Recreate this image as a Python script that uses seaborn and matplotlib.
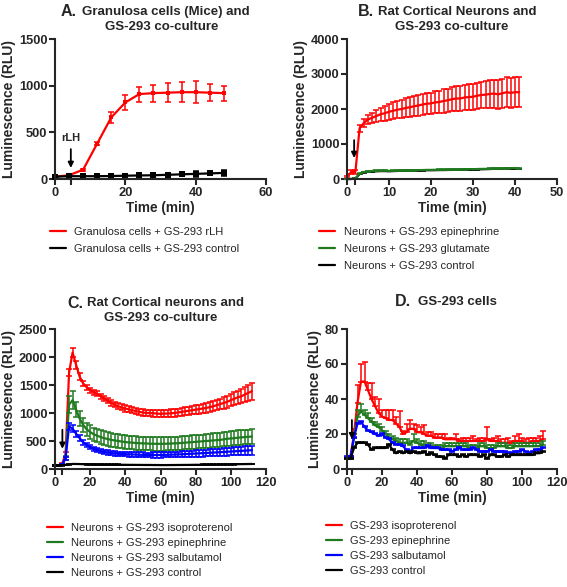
import numpy as np
import pandas as pd
import seaborn as sns
import matplotlib.pyplot as plt
from matplotlib.lines import Line2D

# ---- data ----

# A. granulosa cells + GS-293
a_time = [0, 4, 8, 12, 16, 20, 24, 28, 32, 36, 40, 44, 48]
a_rlh = [25, 40, 100, 380, 660, 820, 910, 920, 925, 930, 930, 925, 920]
a_rlh_err = [5, 5, 10, 20, 60, 80, 80, 90, 100, 110, 120, 90, 80]
a_ctrl = [25, 30, 30, 30, 32, 35, 38, 40, 45, 50, 55, 60, 65]
a_ctrl_err = [3, 3, 3, 3, 3, 5, 5, 5, 8, 20, 35, 15, 30]

# B. rat cortical neurons + GS-293
b_time = [0, 1, 2, 3, 4, 5, 6, 7, 8, 9, 10, 11, 12, 13, 14, 15, 16, 17, 18, 19, 20,
          21, 22, 23, 24, 25, 26, 27, 28, 29, 30, 31, 32, 33, 34, 35, 36, 37, 38, 39, 40, 41]
b_epi = [60, 200, 200, 1450, 1600, 1700, 1750, 1800, 1850, 1880, 1920, 1950, 1980, 2000,
         2030, 2050, 2080, 2100, 2130, 2150, 2160, 2190, 2200, 2230, 2250, 2280, 2300, 2300,
         2330, 2340, 2350, 2380, 2400, 2410, 2430, 2440, 2420, 2450, 2480, 2460, 2480, 2480]
b_epi_err = [20, 60, 60, 100, 110, 120, 150, 170, 190, 210, 230, 240, 250, 260, 270, 280,
             280, 290, 300, 300, 310, 310, 320, 330, 330, 340, 350, 350, 360, 360, 370, 370,
             380, 390, 390, 400, 410, 410, 420, 420, 420, 420]
b_glu = [0, 0, 20, 150, 200, 220, 230, 235, 240, 240, 230, 235, 240, 245, 250, 250, 250,
         255, 255, 260, 260, 262, 265, 265, 268, 270, 272, 275, 278, 280, 280, 285, 288, 290,
         295, 300, 300, 305, 308, 310, 310, 300]
b_ctrl = [0, 0, 10, 140, 190, 205, 215, 220, 225, 225, 220, 225, 230, 235, 240, 240, 240,
          245, 245, 250, 250, 252, 255, 255, 258, 260, 262, 265, 268, 270, 270, 275, 278, 280,
          285, 290, 290, 295, 298, 300, 300, 295]

# C. rat cortical neurons + GS-293, 2 min steps
c_time = [0, 2, 4, 6, 8, 10, 12, 14, 16, 18, 20, 22, 24, 26, 28, 30, 32, 34, 36, 38, 40,
          42, 44, 46, 48, 50, 52, 54, 56, 58, 60, 62, 64, 66, 68, 70, 72, 74, 76, 78, 80,
          82, 84, 86, 88, 90, 92, 94, 96, 98, 100, 102, 104, 106, 108, 110, 112]
c_iso = [60, 62, 90, 260, 1720, 2080, 1860, 1650, 1530, 1460, 1410, 1370, 1340, 1300, 1260,
         1220, 1180, 1150, 1120, 1100, 1080, 1065, 1050, 1035, 1020, 1010, 1000, 1000, 995,
         990, 985, 990, 990, 995, 1000, 1010, 1020, 1030, 1040, 1050, 1060, 1070, 1080, 1090,
         1105, 1120, 1140, 1160, 1180, 1200, 1230, 1255, 1280, 1300, 1330, 1360, 1390]
c_iso_err = [10, 10, 20, 40, 60, 80, 70, 60, 50, 45, 45, 45, 45, 45, 48, 50, 50, 50, 52, 52,
             55, 55, 55, 58, 58, 60, 60, 60, 62, 62, 65, 65, 65, 68, 68, 70, 70, 72, 75, 75,
             80, 80, 82, 85, 88, 90, 92, 95, 100, 105, 110, 115, 120, 125, 130, 140, 150]
c_epi = [60, 62, 80, 200, 1150, 1230, 1060, 900, 790, 710, 660, 620, 595, 570, 550, 535, 520,
         510, 500, 490, 480, 475, 470, 465, 460, 458, 455, 452, 450, 450, 450, 450, 452, 455,
         458, 460, 465, 470, 475, 480, 485, 490, 495, 500, 505, 510, 515, 520, 530, 540, 545,
         550, 560, 565, 570, 575, 580]
c_epi_err = [10, 10, 15, 40, 150, 160, 140, 130, 125, 120, 120, 120, 120, 120, 120, 120, 120,
             120, 120, 120, 120, 120, 120, 120, 120, 120, 120, 120, 120, 120, 120, 120, 120, 120,
             120, 120, 120, 120, 120, 120, 120, 120, 120, 122, 122, 124, 124, 125, 125, 126, 126,
             128, 128, 128, 130, 130, 130]
c_sal = [60, 62, 75, 190, 760, 720, 630, 550, 480, 430, 390, 360, 340, 320, 305, 295, 285,
         278, 272, 268, 265, 262, 260, 258, 255, 252, 250, 250, 250, 250, 250, 252, 254, 256,
         258, 260, 263, 266, 270, 273, 276, 280, 283, 286, 290, 293, 297, 300, 304, 308, 312,
         316, 320, 324, 328, 332, 336]
c_sal_err = [8, 8, 10, 30, 55, 60, 55, 50, 45, 42, 40, 40, 40, 40, 40, 40, 40, 40, 40, 40, 40,
             40, 42, 42, 42, 44, 44, 44, 45, 45, 46, 46, 48, 48, 50, 50, 52, 52, 54, 55, 56, 58,
             60, 60, 62, 64, 65, 66, 68, 70, 70, 72, 74, 75, 76, 78, 80]
c_ctrl = [60, 62, 65, 75, 85, 90, 90, 88, 86, 85, 83, 82, 80, 80, 78, 78, 77, 76, 76, 75, 75,
          74, 74, 73, 73, 72, 72, 72, 71, 71, 70, 70, 70, 71, 71, 72, 72, 73, 73, 74, 75, 75,
          76, 77, 78, 79, 80, 81, 82, 83, 84, 85, 86, 87, 88, 89, 90]
c_ctrl_err = [3, 3, 3, 4, 5, 5, 5, 5, 5, 5, 5, 5, 5, 5, 5, 5, 5, 5, 5, 5, 5, 5, 5, 5, 5, 5,
              5, 5, 5, 5, 5, 5, 5, 5, 5, 5, 5, 5, 5, 5, 5, 5, 5, 5, 5, 5, 5, 5, 5, 5, 5, 5, 5,
              5, 5, 5, 5]

# D. GS-293 cells alone, same 2 min steps
d_time = c_time
d_iso = [6, 7, 20, 38, 50, 50, 45, 40, 36, 32, 30, 29, 28, 28, 26, 24, 20, 21, 23, 23, 21,
         21, 20, 19, 19, 18, 18, 18, 17, 17, 17, 17, 16, 16, 16, 16, 16, 16, 16, 16, 17, 16,
         16, 16, 15, 15, 15, 15, 16, 16, 16, 15, 15, 16, 16, 16, 17]
d_iso_err = [0.5, 0.5, 3, 10, 10, 11, 4, 9, 5, 8, 4, 5, 6, 6, 4, 9, 2, 5, 5, 3, 4, 3, 5, 2,
             2, 2, 2, 2, 3, 1, 1, 3, 1, 2, 2, 2, 3, 1, 2, 2, 7, 1, 2, 3, 2, 2, 3, 1, 3, 4, 2,
             2, 3, 2, 2, 3, 5]
d_epi = [6, 6, 18, 30, 33, 31, 29, 27, 25, 24, 22, 20, 18, 17, 16, 15, 15, 15, 14, 16, 15,
         14, 14, 13, 13, 12, 12, 12, 13, 13, 13, 13, 13, 13, 13, 12, 12, 12, 13, 13, 12, 12,
         12, 13, 13, 13, 12, 12, 13, 13, 13, 13, 13, 13, 13, 13, 14]
d_epi_err = [0.5, 0.5, 2, 4, 4, 3, 3, 2, 2, 2, 2, 2, 2, 2, 2, 2, 2, 2, 2, 4, 2, 2, 2, 2, 2,
             2, 2, 2, 2, 2, 2, 2, 2, 2, 2, 2, 2, 2, 2, 2, 2, 2, 2, 2, 2, 2, 2, 2, 2, 2, 2, 2,
             2, 2, 2, 2, 2]
d_sal = [7, 7, 18, 26, 27, 24, 22, 21, 20, 19, 20, 18, 17, 15, 14, 14, 13, 11, 10, 12, 12,
         12, 12, 13, 12, 12, 12, 11, 11, 11, 10, 11, 12, 11, 11, 11, 12, 11, 10, 10, 10, 11,
         10, 10, 10, 10, 9, 9, 10, 10, 11, 10, 9, 10, 11, 11, 12]
d_sal_err = [0.5] * 57
d_ctrl = [6, 6, 12, 15, 15, 15, 14, 11, 12, 12, 12, 12, 14, 11, 9, 10, 9, 10, 9, 10, 9, 9,
          10, 8, 9, 8, 7, 7, 6, 8, 8, 8, 7, 8, 7, 8, 8, 8, 7, 8, 6, 8, 8, 7, 7, 8, 7, 8, 8, 8,
          8, 8, 8, 8, 9, 9, 10]
d_ctrl_err = [0.5] * 57

RED, GREEN, BLUE, BLACK = "#ff0000", "#1f7a1f", "#0000ff", "#000000"

sns.set_style("ticks")
plt.rcParams["font.family"] = ["Liberation Sans", "DejaVu Sans"]

fig = plt.figure(figsize=(5.67, 5.87), dpi=100)
W, H = 567, 587


def make_axes(left, right, top, bottom):
    return fig.add_axes([left / W, 1 - bottom / H, (right - left) / W, (bottom - top) / H])


def draw(ax, t, y, err, color, upper_only=False, marker=None, msize=4):
    df = pd.DataFrame({"t": t, "y": y})
    sns.lineplot(data=df, x="t", y="y", ax=ax, color=color, lw=1.6,
                 marker=marker, markersize=msize, markeredgewidth=0, clip_on=False)
    err = np.asarray(err, dtype=float)
    yerr = [np.zeros_like(err), err] if upper_only else err
    ax.errorbar(t, y, yerr=yerr, fmt="none", ecolor=color, elinewidth=1.1,
                capsize=2, capthick=1.1, clip_on=False)


def style(ax, xmax, xstep, ymax, ystep, tick_at):
    ax.set_xlim(0, xmax)
    ax.set_ylim(0, ymax)
    ax.set_xticks(np.arange(0, xmax + 1, xstep))
    ax.set_yticks(np.arange(0, ymax + 1, ystep))
    ax.set_xticks([tick_at], minor=True)
    for s in ["left", "bottom"]:
        ax.spines[s].set_linewidth(1.5)
    sns.despine(ax=ax)
    ax.tick_params(which="both", width=1.5, length=4, pad=1.5, labelsize=9.3)
    for lab in ax.get_xticklabels() + ax.get_yticklabels():
        lab.set_fontweight("bold")
    ax.set_xlabel("Time (min)", fontsize=9.8, fontweight="bold", labelpad=2)
    ax.set_ylabel("Luminescence (RLU)", fontsize=10, fontweight="bold", labelpad=2)


def arrow(ax, x, y0, y1):
    ax.annotate("", xy=(x, y1), xytext=(x, y0),
                arrowprops=dict(arrowstyle="-|>", color="black", lw=1.3,
                                mutation_scale=8, shrinkA=0, shrinkB=0))


def legend(ax, labels, colors, bx, by, spacing):
    handles = [Line2D([], [], color=c, lw=1.6) for c in colors]
    ax.legend(handles, labels, loc="upper left", bbox_to_anchor=(bx, by), frameon=False,
              fontsize=8, borderpad=0, borderaxespad=0, handlelength=1.45,
              handletextpad=0.75, labelspacing=spacing)


def title(letter_x, body_x, line2_x, y1, letter, body, line2=None):
    fig.text(letter_x / W, 1 - y1 / H, letter, fontsize=11.5, fontweight="bold",
             ha="left", va="center")
    fig.text(body_x / W, 1 - y1 / H, body, fontsize=9.5, fontweight="bold",
             ha="left", va="center")
    if line2:
        fig.text(line2_x / W, 1 - (y1 + 15) / H, line2, fontsize=9.5, fontweight="bold",
                 ha="center", va="center")


# A
axA = make_axes(55, 266, 39, 179)
draw(axA, a_time, a_rlh, a_rlh_err, RED, marker="s", msize=3)
draw(axA, a_time, a_ctrl, a_ctrl_err, BLACK, marker="s", msize=4.5)
style(axA, 60, 20, 1500, 500, 4.5)
arrow(axA, 4.5, 320, 118)
axA.text(4.5, 440, "rLH", ha="center", va="center", fontsize=8, fontweight="bold")
legend(axA, ["Granulosa cells + GS-293 rLH", "Granulosa cells + GS-293 control"],
       [RED, BLACK], -0.024, -0.343, 0.62)
title(61, 82, 161.7, 12, "A.", "Granulosa cells (Mice) and", "GS-293 co-culture")

# B
axB = make_axes(347, 557, 39, 179)
draw(axB, b_time, b_epi, b_epi_err, RED)
draw(axB, b_time, b_ctrl, [5] * len(b_time), BLACK)
draw(axB, b_time, b_glu, [8] * len(b_time), GREEN)
style(axB, 50, 10, 4000, 1000, 1.9)
arrow(axB, 1.7, 1110, 600)
legend(axB, ["Neurons + GS-293 epinephrine", "Neurons + GS-293 glutamate",
             "Neurons + GS-293 control"], [RED, GREEN, BLACK], -0.133, -0.343, 0.62)
title(358, 378, 452, 12, "B.", "Rat Cortical Neurons and", "GS-293 co-culture")

# C
axC = make_axes(55, 266, 329, 469)
draw(axC, c_time, c_iso, c_iso_err, RED)
draw(axC, c_time, c_epi, c_epi_err, GREEN)
draw(axC, c_time, c_sal, c_sal_err, BLUE)
draw(axC, c_time, c_ctrl, c_ctrl_err, BLACK)
style(axC, 120, 20, 2500, 500, 4)
arrow(axC, 4.2, 700, 360)
legend(axC, ["Neurons + GS-293 isoproterenol", "Neurons + GS-293 epinephrine",
             "Neurons + GS-293 salbutamol", "Neurons + GS-293 control"],
       [RED, GREEN, BLUE, BLACK], -0.038, -0.386, 0.45)
title(67, 87, 160.5, 303, "C.", "Rat Cortical neurons and", "GS-293 co-culture")

# D
axD = make_axes(347, 557, 329, 469)
draw(axD, d_time, d_iso, d_iso_err, RED, upper_only=True)
draw(axD, d_time, d_epi, d_epi_err, GREEN, upper_only=True)
draw(axD, d_time, d_sal, d_sal_err, BLUE, upper_only=True)
draw(axD, d_time, d_ctrl, d_ctrl_err, BLACK, upper_only=True)
style(axD, 120, 20, 80, 20, 3)
arrow(axD, 2.8, 28, 17)
legend(axD, ["GS-293 isoproterenol", "GS-293 epinephrine", "GS-293 salbutamol",
             "GS-293 control"], [RED, GREEN, BLUE, BLACK], -0.1, -0.371, 0.45)
title(395, 418, 0, 302, "D.", "GS-293 cells")

fig.savefig("out.png", dpi=100)
